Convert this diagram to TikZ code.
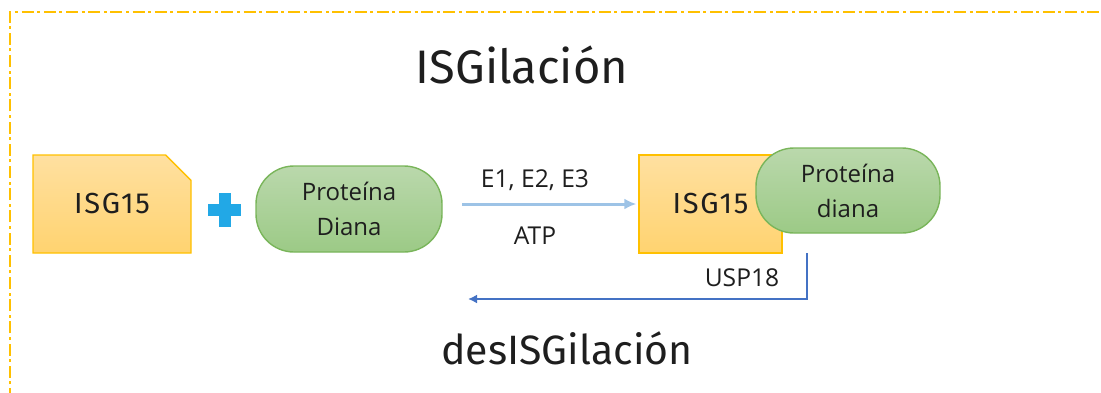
\documentclass[tikz,border=0pt]{standalone}
\usepackage{fontspec}
\setmainfont{Open Sans}
\newfontfamily\headfont{Fira Sans}
\newfontfamily\isgfont{Fira Sans}[LetterSpace=6]
\usetikzlibrary{arrows.meta, shapes.misc, positioning}
\definecolor{marco}{HTML}{FFC000}
\definecolor{isgline}{HTML}{FFC000}
\definecolor{isgtop}{HTML}{FFE0A0}
\definecolor{isgbot}{HTML}{FFD370}
\definecolor{protline}{HTML}{79B55A}
\definecolor{prottop}{HTML}{BAD8AC}
\definecolor{protbot}{HTML}{9CCA86}
\definecolor{masazul}{HTML}{22A8E6}
\definecolor{flechaclara}{HTML}{9DC3E6}
\definecolor{flechaosc}{HTML}{4472C4}
\definecolor{texto}{HTML}{1E1E1E}
\tikzset{
    isgbox/.style={draw=isgline, line width=0.7pt, top color=isgtop, bottom color=isgbot,
        inner sep=0pt, text=texto, font=\isgfont\fontsize{14.5}{15}\selectfont},
    protbox/.style={draw=protline, line width=0.7pt, top color=prottop, bottom color=protbot,
        rounded corners=19pt, inner sep=0pt, align=center, text=texto,
        font=\fontsize{12}{17.5}\selectfont},
    etiqueta/.style={text=texto, font=\fontsize{12.3}{13}\selectfont},
    titulo/.style={text=texto, font=\headfont\fontsize{#1}{24}\selectfont}
}

\begin{document}
\begin{tikzpicture}[x=0.5pt, y=-0.5pt]
    \useasboundingbox (0,0) rectangle (1101,392);
    \draw[marco, line width=0.9pt, dash pattern=on 6pt off 1.8pt on 1.5pt off 1.8pt]
        (10,400) -- (10,12) -- (1110,12);
    \node[titulo=23.5] (isgilacion) at (522,65) {ISGilación};
    % reactivos
    \node[isgbox, chamfered rectangle, chamfered rectangle corners=north east,
        chamfered rectangle xsep=7.5pt, chamfered rectangle ysep=7.5pt,
        minimum width=79pt, minimum height=49pt] (isgA) at (112,204) {ISG15\hspace{4pt}};
    \fill[masazul] (224.5,210) +(-16.5,-6) rectangle +(16.5,6);
    \fill[masazul] (224.5,210) +(-6,-17) rectangle +(6,17);
    \node[protbox, minimum width=93pt, minimum height=43pt] (protA) at (349,209) {Proteína\\Diana};
    % producto
    \node[isgbox, rectangle, minimum width=71.5pt, minimum height=49pt] (isgB) at (710.5,204)
        {ISG15\hspace{17.5pt}};
    \node[protbox, minimum width=92pt, minimum height=42.5pt] (protB) at (848,190.5) {Proteína\\diana};
    % flechas
    \coordinate (eIni) at (462,204);
    \draw[flechaclara, line width=1.5pt, -{Latex[length=6pt, width=5.5pt]}, shorten >=1pt]
        (eIni) -- (isgB.west);
    \node[etiqueta] (enzimas) at (535,180) {E1, E2, E3};
    \node[etiqueta] (atp) at (535,236) {ATP};
    \coordinate (uIni) at (807,253);
    \coordinate (uFin) at (468,299);
    \draw[flechaosc, line width=1.3pt, -{Latex[length=4.5pt, width=4.5pt]}] (uIni) |- (uFin);
    \node[etiqueta] (usp) at (742,278) {USP18};
    \node[titulo=20.5] (desisg) at (567,348) {desISGilación};
\end{tikzpicture}
\end{document}
